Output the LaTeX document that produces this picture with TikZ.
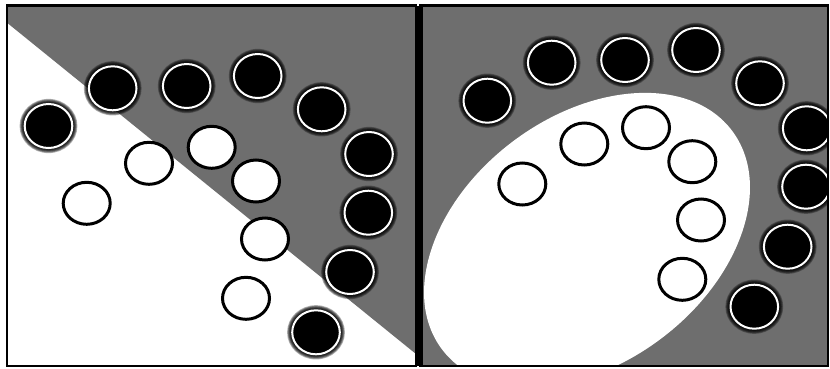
\documentclass[tikz,border=0pt]{standalone}
\usetikzlibrary{shapes.geometric}
\definecolor{panelgray}{RGB}{110,110,110}
\tikzset{
  blackdot/.style={ellipse, draw=white, line width=1.5pt, fill=black,
    minimum width=35.7pt, minimum height=33pt, inner sep=0pt},
  whitedot/.style={ellipse, draw=black, line width=2.25pt, fill=white,
    minimum width=35.25pt, minimum height=31.5pt, inner sep=0pt},
  halo/.style={fill=black, fill opacity=0.3},
  frame/.style={draw=black, line width=1.9pt},
}
\begin{document}
\begin{tikzpicture}[x=0.75pt, y=-0.75pt]
\useasboundingbox (0,0) rectangle (830,368);
\fill[white] (0,0) rectangle (830,368);
% ---------- left panel ----------
\begin{scope}
  \clip (7,5.5) rectangle (416,366);
  \fill[white] (7,5.5) rectangle (416,366);
  \fill[panelgray] (7,5.5) -- (416,5.5) -- (416,354) -- (7,22.7) -- cycle;
  \foreach \p in {(48.5,126),(112.7,88.3),(186.7,86),(257.7,76),(321.7,109.3),(369,154),(368.3,212.7),(350,272),(316,332.3)}{
    \foreach \k in {1,...,6}{
      \fill[halo] \p ellipse [x radius={18.4pt+\k*0.55pt}, y radius={17.05pt+\k*0.55pt}];
    }
  }
  \foreach \p [count=\i] in {(48.5,126),(112.7,88.3),(186.7,86),(257.7,76),(321.7,109.3),(369,154),(368.3,212.7),(350,272),(316,332.3)}
    \node[blackdot] (lb\i) at \p {};
  \foreach \p [count=\i] in {(86.7,203.3),(149,163.3),(211.7,147.3),(256,181),(265,239),(246,298.3)}
    \node[whitedot] (lw\i) at \p {};
\end{scope}
\draw[frame] (7,5.5) rectangle (416,366);
% ---------- right panel ----------
\begin{scope}
  \clip (420,5.5) rectangle (828,366);
  \fill[panelgray] (420,5.5) rectangle (828,366);
  \fill[white, rotate around={37:(587,240)}] (587,240) ellipse [x radius=136.2pt, y radius=92.5pt];
  \foreach \p in {(487.3,100.7),(551.7,62.7),(625,60),(696,50),(760,83.3),(806.7,128.3),(806,186.7),(787.7,246.7),(754.3,306.7)}{
    \foreach \k in {1,...,6}{
      \fill[halo] \p ellipse [x radius={18.4pt+\k*0.55pt}, y radius={17.05pt+\k*0.55pt}];
    }
  }
  \foreach \p [count=\i] in {(487.3,100.7),(551.7,62.7),(625,60),(696,50),(760,83.3),(806.7,128.3),(806,186.7),(787.7,246.7),(754.3,306.7)}
    \node[blackdot] (rb\i) at \p {};
  \foreach \p [count=\i] in {(522.3,184),(584.3,144),(646,127.7),(692.3,161.7),(701,220),(682.3,279.3)}
    \node[whitedot] (rw\i) at \p {};
\end{scope}
\draw[frame] (420,5.5) rectangle (828,366);
\fill[black] (416.5,5.5) rectangle (423,366);
\end{tikzpicture}
\end{document}
